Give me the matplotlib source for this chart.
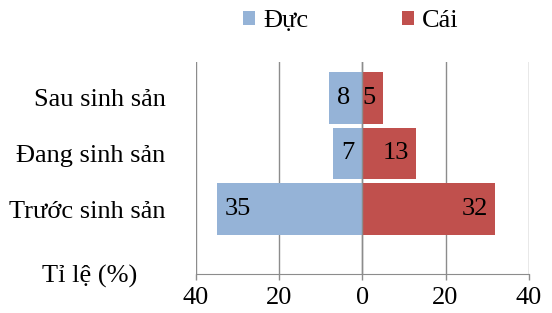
""" population pyramid of age groups by sex """
from matplotlib import pyplot as plt
from matplotlib import transforms
import numpy as np

# data
categories = ["Trước sinh sản", "Đang sinh sản", "Sau sinh sản"]
male = [35, 7, 8]
female = [32, 13, 5]
series_names = ["Đực", "Cái"]
x_ticks = [-40, -20, 0, 20, 40]

# styles
_blue = "#95B3D7"
_red = "#C0504D"
_grid = "#8C8C8C"
_fs = 19
plt.rcParams["font.family"] = ["Liberation Serif", "DejaVu Serif"]

fig = plt.figure(figsize=(5.52, 3.13), dpi=100)
ax = fig.add_axes([0.3551, 0.1246, 0.6027, 0.6783])

y = np.arange(len(categories))
male_neg = -np.array(male)
ax.barh(y, male_neg, height=0.92, color=_blue, label=series_names[0], zorder=2)
ax.barh(y, female, height=0.92, color=_red, label=series_names[1], zorder=2)

# data labels at inside end of each bar
_off = 5.5
for yi, v in zip(y, male_neg):
    ax.annotate(str(abs(v)), xy=(v, yi), xytext=(_off, 0), textcoords="offset points",
                ha="left", va="center", fontsize=_fs, color="black", zorder=3)
for yi, v in zip(y, female):
    ax.annotate(str(v), xy=(v, yi), xytext=(-_off, 0), textcoords="offset points",
                ha="right", va="center", fontsize=_fs, color="black", zorder=3)

# axes layout
ax.set_xlim(-40, 40)
ax.set_ylim(-1.171, 2.654)
ax.set_xticks(x_ticks)
ax.set_xticklabels([str(abs(t)) for t in x_ticks], fontsize=_fs)
ax.set_yticks(y)
ax.set_yticklabels(categories, fontsize=_fs)
ax.tick_params(axis="y", length=0, pad=22)
ax.tick_params(axis="x", length=4, color=_grid, width=1, pad=5)
ax.grid(axis="x", color=_grid, linewidth=1, zorder=1)
ax.set_axisbelow(True)
for s in ["top", "right", "left"]:
    ax.spines[s].set_visible(False)
ax.spines["bottom"].set_color(_grid)
ax.axvline(0, color=_grid, linewidth=1, zorder=2.5)

# axis caption placed like an extra category
_tr = transforms.blended_transform_factory(ax.transAxes, ax.transData)
ax.text(-0.32, -1.333, "Tỉ lệ (%)", transform=_tr, ha="center", va="baseline", fontsize=_fs)

# legend on top
fig.legend(loc="center", bbox_to_anchor=(351 / 552, 1 - 21 / 313), ncol=2, frameon=False,
           fontsize=_fs, handlelength=0.45, handleheight=0.45, handletextpad=0.3,
           columnspacing=3.55)

fig.savefig("out.png", dpi=100)
